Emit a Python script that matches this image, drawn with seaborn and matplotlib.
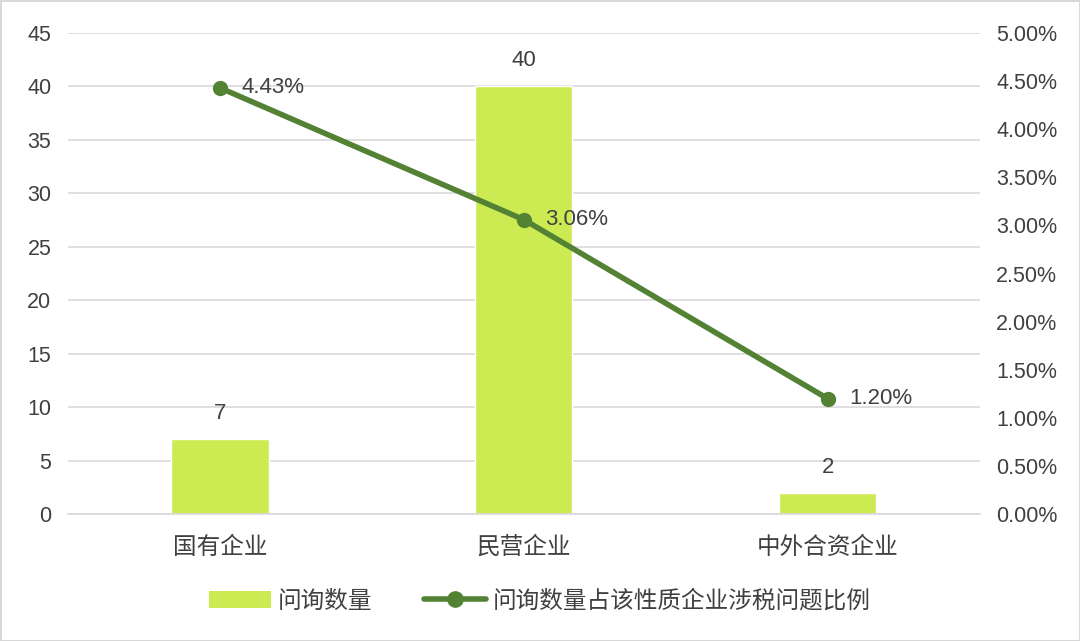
import pandas as pd
import numpy as np
import seaborn as sns
import matplotlib.pyplot as plt
from matplotlib.ticker import FuncFormatter, MultipleLocator
from matplotlib.lines import Line2D
from matplotlib.patches import Patch

# 数据
categories = ['国有企业', '民营企业', '中外合资企业']
counts = [7, 40, 2]
ratios = [0.0443, 0.0306, 0.0120]

bar_color = '#CCEB52'
line_color = '#548235'
text_color = '#404040'

sns.set_theme(style='white')
plt.rcParams['font.family'] = ['Liberation Sans', 'Noto Sans CJK SC', 'DejaVu Sans']

df = pd.DataFrame({'类别': categories, '问询数量': counts, '比例': ratios})

fig = plt.figure(figsize=(10.8, 6.41), dpi=100)
fig.patch.set_edgecolor('#D9D9D9')
fig.patch.set_linewidth(2)
ax = fig.add_axes([0.063, 0.198, 0.844, 0.7505])

sns.barplot(data=df, x='类别', y='问询数量', color=bar_color, width=0.32,
            saturation=1, ax=ax)
ax.set_ylim(0, 45)
ax.set_xlim(-0.5, 2.5)
ax.yaxis.set_major_locator(MultipleLocator(5))
ax.grid(axis='y', color='#D9D9D9', linewidth=1.2)
ax.set_axisbelow(True)
for s in ['top', 'right', 'left']:
    ax.spines[s].set_visible(False)
ax.spines['bottom'].set_color('#D9D9D9')
ax.set_xlabel('')
ax.set_ylabel('')
ax.tick_params(axis='y', labelsize=15.5, colors=text_color, length=0, pad=12)
ax.tick_params(axis='x', labelsize=17, colors=text_color, length=0, pad=16)

# 柱子数值标签
for i, v in enumerate(counts):
    ax.text(i, v + 1.4, str(v), ha='center', va='bottom', fontsize=16, color=text_color)

# 右轴：比例折线
ax2 = ax.twinx()
sns.lineplot(x=np.arange(len(categories)), y=ratios, ax=ax2, color=line_color,
             linewidth=4, marker='o', markersize=11, markeredgewidth=0)
ax2.set_ylim(0, 0.05)
ax2.yaxis.set_major_locator(MultipleLocator(0.005))
ax2.yaxis.set_major_formatter(FuncFormatter(lambda v, p: f'{v*100:.2f}%'))
for s in ['top', 'right', 'left', 'bottom']:
    ax2.spines[s].set_visible(False)
ax2.tick_params(axis='y', labelsize=15.5, colors=text_color, length=0, pad=12)
ax2.set_xlim(-0.5, 2.5)

for i, r in enumerate(ratios):
    ax2.text(i + 0.07, r, f'{r*100:.2f}%', ha='left', va='center', fontsize=16, color=text_color)

handles = [Patch(facecolor=bar_color, edgecolor='none'),
           Line2D([0], [0], color=line_color, linewidth=4, marker='o', markersize=11)]
fig.legend(handles, ['问询数量', '问询数量占该性质企业涉税问题比例'], loc='center',
           bbox_to_anchor=(0.5, 0.062), ncol=2, frameon=False, fontsize=17,
           labelcolor=text_color, handlelength=2.6, columnspacing=2.2, handletextpad=0.3)

fig.savefig('out.png', dpi=100)
